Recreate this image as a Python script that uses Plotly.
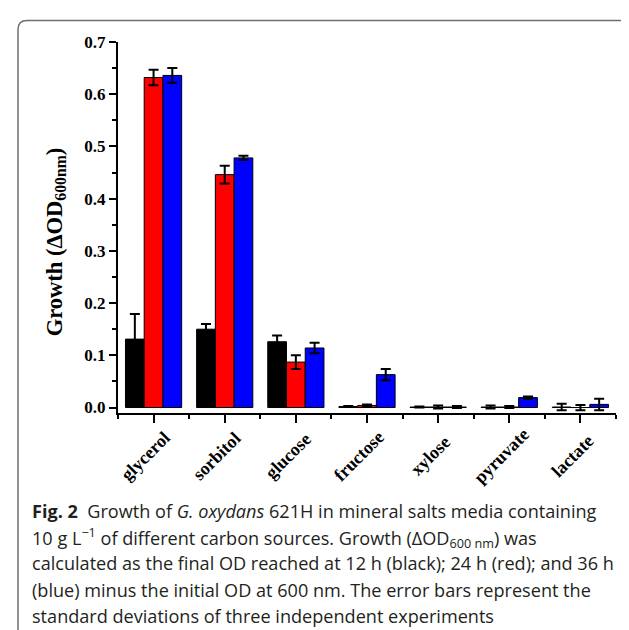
import plotly.graph_objects as go

categories = ["glycerol", "sorbitol", "glucose", "fructose", "xylose", "pyruvate", "lactate"]
series_names = ["12 h", "24 h", "36 h"]
colors = ["#000000", "#ff0000", "#0000ff"]
growth_12h = [0.131, 0.150, 0.126, 0.002, 0.001, 0.001, 0.001]
err_12h = [0.048, 0.010, 0.012, 0.001, 0.001, 0.003, 0.006]
growth_24h = [0.632, 0.446, 0.087, 0.004, 0.001, 0.001, 0.000]
err_24h = [0.015, 0.017, 0.013, 0.002, 0.003, 0.002, 0.005]
growth_36h = [0.636, 0.478, 0.114, 0.063, 0.001, 0.019, 0.006]
err_36h = [0.014, 0.004, 0.010, 0.011, 0.002, 0.002, 0.011]
y_ticks = [0.0, 0.1, 0.2, 0.3, 0.4, 0.5, 0.6, 0.7]
caption_lines = [
    "<b>Fig. 2</b>  Growth of <i>G. oxydans</i> 621H in mineral salts media containing",
    "10 g L<sup>−1</sup> of different carbon sources. Growth (ΔOD<sub>600 nm</sub>) was",
    "calculated as the final OD reached at 12 h (black); 24 h (red); and 36 h",
    "(blue) minus the initial OD at 600 nm. The error bars represent the",
    "standard deviations of three independent experiments",
]

W, H = 629, 630
L, R, T, B = 110, 21, 33.5, 225
pw, ph = W - L - R, H - T - B

fig = go.Figure()
xpos = list(range(len(categories)))
for name, vals, errs, col in zip(series_names, [growth_12h, growth_24h, growth_36h],
                                 [err_12h, err_24h, err_36h], colors):
    fig.add_trace(go.Bar(
        x=xpos, y=vals, name=name,
        marker=dict(color=col, line=dict(color="black", width=1)),
        error_y=dict(type="data", array=errs, color="black", thickness=2, width=5),
    ))

serif = "Liberation Serif, Times New Roman, serif"
fig.update_layout(
    width=W, height=H, barmode="group", bargap=0.21, bargroupgap=0,
    margin=dict(l=L, r=R, t=T, b=B, autoexpand=False),
    paper_bgcolor="white", plot_bgcolor="white", showlegend=False,
    font=dict(family=serif, color="black"),
)
fig.update_xaxes(
    range=[-0.5, 6.5], tickmode="array", tickvals=xpos, showticklabels=False,
    showline=True, linecolor="black", linewidth=2, ticks="outside", ticklen=8,
    tickwidth=2, tickcolor="black", showgrid=False, zeroline=False,
    minor=dict(tickmode="linear", tick0=-0.5, dtick=1, ticks="outside", ticklen=4,
               tickwidth=2, tickcolor="black", showgrid=False),
)
fig.update_yaxes(
    range=[-0.0105, 0.7], tickmode="array", tickvals=y_ticks,
    ticktext=[f"{v:.1f}" for v in y_ticks],
    tickfont=dict(family=serif, size=17, weight="bold"),
    showline=True, linecolor="black", linewidth=2, ticks="outside", ticklen=7,
    tickwidth=2, tickcolor="black", showgrid=False, zeroline=False,
    minor=dict(tickmode="linear", tick0=0.05, dtick=0.1, ticks="outside", ticklen=4,
               tickwidth=2, tickcolor="black", showgrid=False),
)

def px(x):
    return (x - L) / pw

def py(y):
    return (H - B - y) / ph

# category labels, rotated and centred under each tick
for xi, cat in zip(xpos, categories):
    fig.add_annotation(text=cat, xref="x", yref="paper", x=xi, y=py(448),
                       xanchor="center", yanchor="middle", xshift=-8,
                       textangle=-45, showarrow=False,
                       font=dict(family=serif, size=18, weight="bold", color="black"))

# y-axis title as rotated annotation
fig.add_annotation(text="Growth (ΔOD<sub>600nm</sub>)", xref="paper", yref="paper",
                   x=px(48), y=py(234), xanchor="center", yanchor="middle",
                   textangle=-90, showarrow=False,
                   font=dict(family=serif, size=22.5, weight="bold", color="black"))

# rounded border box
lx, ty, rx_, by = px(10), py(12), px(645), py(645)
cx, cy = 9 / pw, 9 / ph
path = (f"M {lx},{by} L {lx},{ty - cy} Q {lx},{ty} {lx + cx},{ty} L {rx_},{ty}")
fig.add_shape(type="path", path=path, xref="paper", yref="paper",
              line=dict(color="#6d6d6d", width=1.5), layer="above")

line_y0, line_dy = 503, 26.3
for i, txt in enumerate(caption_lines):
    fig.add_annotation(text=txt, xref="paper", yref="paper", x=px(22), y=py(line_y0 + i * line_dy),
                       xanchor="left", yanchor="middle", align="left", showarrow=False,
                       font=dict(family="Open Sans, Noto Sans, sans-serif", size=18.1, color="#231f20"))

fig.write_html("out.html")
